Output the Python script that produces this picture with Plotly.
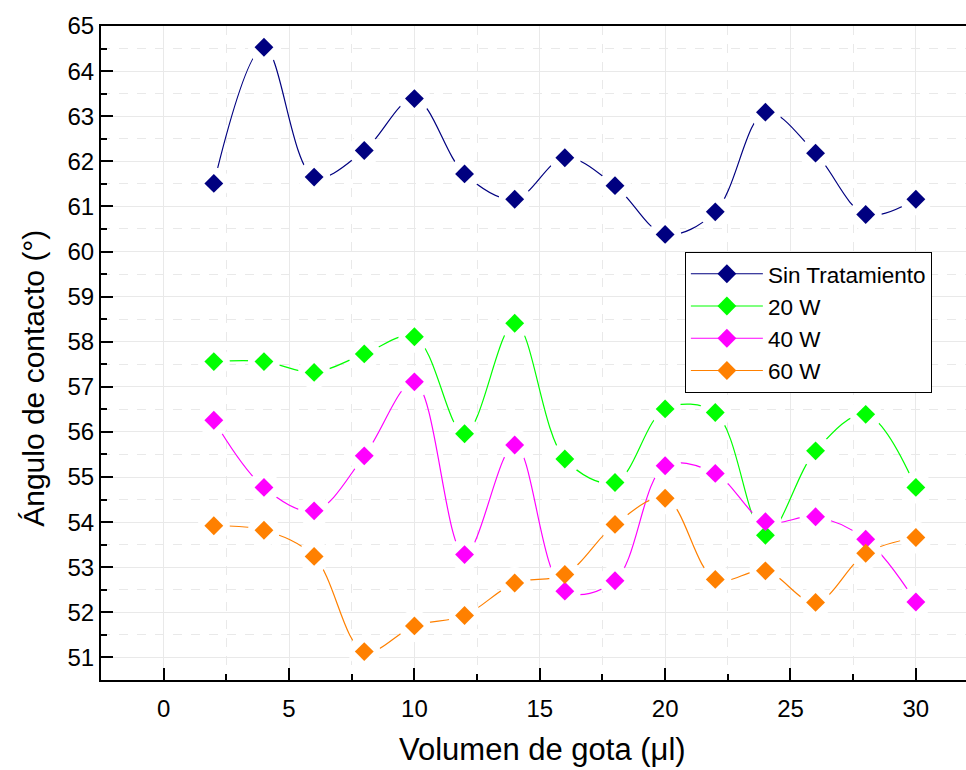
import plotly.graph_objects as go

# Drop volume (µl)
volumen = [2, 4, 6, 8, 10, 12, 14, 16, 18, 20, 22, 24, 26, 28, 30]

# Contact angle (°) for each plasma treatment
sin_tratamiento = [61.51, 64.53, 61.65, 62.24, 63.39, 61.72, 61.16, 62.08, 61.46,
                   60.38, 60.88, 63.09, 62.18, 60.82, 61.16]
w20 = [57.56, 57.56, 57.32, 57.73, 58.11, 55.96, 58.41, 55.40, 54.88,
       56.51, 56.43, 53.71, 55.58, 56.39, 54.77]
w40 = [56.26, 54.77, 54.25, 55.47, 57.11, 53.28, 55.71, 52.47, 52.70,
       55.25, 55.08, 54.01, 54.12, 53.62, 52.23]
w60 = [53.92, 53.82, 53.24, 51.13, 51.70, 51.93, 52.65, 52.84, 53.95,
       54.53, 52.73, 52.92, 52.22, 53.31, 53.66]

nombres = ["Sin Tratamiento", "20 W", "40 W", "60 W"]
colores = ["#000080", "#00FF00", "#FF00FF", "#FF8000"]
series = [sin_tratamiento, w20, w40, w60]

FONT = "Liberation Sans, Arial, sans-serif"

fig = go.Figure()

# smoothed curves (also provide the legend entries)
for nombre, color, ys in zip(nombres, colores, series):
    fig.add_trace(go.Scatter(
        x=volumen, y=ys, name=nombre, mode="lines+markers",
        line=dict(color=color, width=1.2, shape="spline", smoothing=1),
        marker=dict(symbol="diamond", size=14.5, color=color, line=dict(width=0)),
    ))

# white halos leave a gap between each curve and its symbols
for ys in series:
    fig.add_trace(go.Scatter(
        x=volumen, y=ys, mode="markers", showlegend=False, hoverinfo="skip",
        marker=dict(symbol="circle", size=32, color="#ffffff", opacity=1,
                    line=dict(width=0)),
    ))

# symbols on top
for nombre, color, ys in zip(nombres, colores, series):
    fig.add_trace(go.Scatter(
        x=volumen, y=ys, mode="markers", showlegend=False, name=nombre,
        marker=dict(symbol="diamond", size=14.5, color=color, line=dict(width=0)),
    ))

grid_col = "#e9e9e9"

fig.update_xaxes(
    range=[-2.5, 32], tickmode="linear", tick0=0, dtick=5,
    showline=True, linecolor="black", linewidth=2, mirror=True,
    ticks="inside", ticklen=12, tickwidth=2, tickcolor="black",
    showgrid=True, gridcolor=grid_col, gridwidth=1.3, zeroline=False,
    tickfont=dict(family=FONT, size=24, color="black"), ticklabelstandoff=6,
    minor=dict(dtick=2.5, tick0=0, ticks="inside", ticklen=6, tickwidth=2,
               tickcolor="black", showgrid=True, gridcolor=grid_col,
               griddash="dash", gridwidth=1.3),
)
fig.update_yaxes(
    range=[50.5, 65], tickmode="linear", tick0=51, dtick=1,
    showline=True, linecolor="black", linewidth=2,
    ticks="inside", ticklen=12, tickwidth=2, tickcolor="black",
    showgrid=True, gridcolor=grid_col, gridwidth=1.3, zeroline=False,
    tickfont=dict(family=FONT, size=24, color="black"),
    minor=dict(dtick=0.5, tick0=51, ticks="inside", ticklen=6, tickwidth=2,
               tickcolor="black", showgrid=True, gridcolor=grid_col,
               griddash="dash", gridwidth=1.3),
)

fig.update_layout(
    width=966, height=770,
    margin=dict(l=101, r=0, t=26, b=90),
    plot_bgcolor="white", paper_bgcolor="white",
    font=dict(family=FONT, color="black"),
    legend=dict(
        x=0.675, y=0.655, xanchor="left", yanchor="top",
        bgcolor="white", bordercolor="black", borderwidth=1,
        font=dict(family=FONT, size=22.5, color="black"),
        itemwidth=72, tracegroupgap=0, entrywidth=187, entrywidthmode="pixels",
    ),
    annotations=[
        dict(text="Volumen de gota (\u03bcl)", xref="paper", yref="paper",
             x=0.51, y=-0.107, xanchor="center", yanchor="middle",
             showarrow=False, font=dict(family=FONT, size=31, color="black")),
        dict(text="\u00c1ngulo de contacto (\u00b0)", xref="paper", yref="paper",
             x=-0.0775, y=0.462, xanchor="center", yanchor="middle", textangle=-90,
             showarrow=False, font=dict(family=FONT, size=30, color="black")),
    ],
)

fig.write_html("out.html")
